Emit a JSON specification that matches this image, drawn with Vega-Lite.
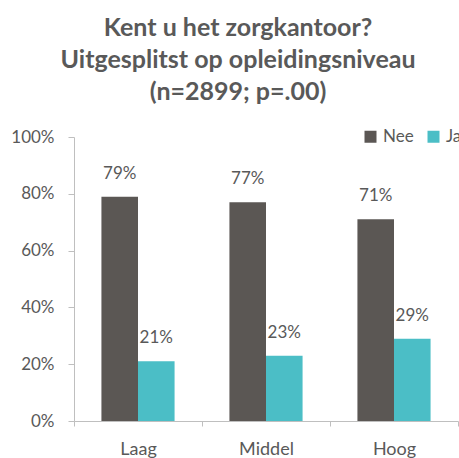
{
  "$schema": "https://vega.github.io/schema/vega-lite/v6.json",
  "width": 384,
  "height": 284,
  "autosize": "none",
  "padding": {"left": 74, "top": 137, "right": 1, "bottom": 37},
  "config": {"view": {"stroke": null}, "font": "Lato"},
  "title": {
    "text": ["Kent u het zorgkantoor?", "Uitgesplitst op opleidingsniveau", "(n=2899; p=.00)"],
    "fontSize": 25,
    "fontWeight": "bold",
    "color": "#595959",
    "lineHeight": 32,
    "anchor": "middle",
    "dx": -28,
    "offset": 23
  },
  "data": {
    "values": [
      {"niveau": "Laag", "antwoord": "Nee", "pct": 0.79},
      {"niveau": "Laag", "antwoord": "Ja", "pct": 0.21},
      {"niveau": "Middel", "antwoord": "Nee", "pct": 0.77},
      {"niveau": "Middel", "antwoord": "Ja", "pct": 0.23},
      {"niveau": "Hoog", "antwoord": "Nee", "pct": 0.71},
      {"niveau": "Hoog", "antwoord": "Ja", "pct": 0.29}
    ]
  },
  "encoding": {
    "x": {
      "field": "niveau", "type": "nominal", "sort": ["Laag", "Middel", "Hoog"],
      "scale": {"paddingInner": 0, "paddingOuter": 0},
      "axis": {"title": null, "labelAngle": 0, "tickBand": "extent", "domainColor": "#bfbfbf", "tickColor": "#bfbfbf", "tickSize": 5, "labelFontSize": 18, "labelColor": "#595959", "labelPadding": 14}
    },
    "xOffset": {
      "field": "antwoord", "type": "nominal", "sort": ["Nee", "Ja"],
      "scale": {"paddingInner": 0, "paddingOuter": 0.75}
    },
    "y": {
      "field": "pct", "type": "quantitative",
      "scale": {"domain": [0, 1]},
      "axis": {"title": null, "format": ".0%", "values": [0, 0.2, 0.4, 0.6, 0.8, 1], "grid": false, "domainColor": "#bfbfbf", "tickColor": "#bfbfbf", "tickSize": 6, "labelFontSize": 17, "labelColor": "#595959", "labelPadding": 14}
    }
  },
  "layer": [
    {
      "mark": {"type": "bar"},
      "encoding": {
        "color": {
          "field": "antwoord", "type": "nominal",
          "scale": {"domain": ["Nee", "Ja"], "range": ["#5b5754", "#4bbec6"]},
          "legend": {"orient": "none", "legendX": 288, "legendY": -9, "direction": "horizontal", "title": null, "symbolType": "square", "symbolSize": 144, "symbolStrokeWidth": 0, "symbolOpacity": 1, "labelFontSize": 17, "labelColor": "#595959", "labelOffset": 4, "columnPadding": 11, "padding": 0}
        }
      }
    },
    {
      "mark": {"type": "text", "baseline": "alphabetic", "dy": -18, "fontSize": 17, "color": "#595959"},
      "encoding": {
        "text": {"field": "pct", "type": "quantitative", "format": ".0%"}
      }
    }
  ]
}
